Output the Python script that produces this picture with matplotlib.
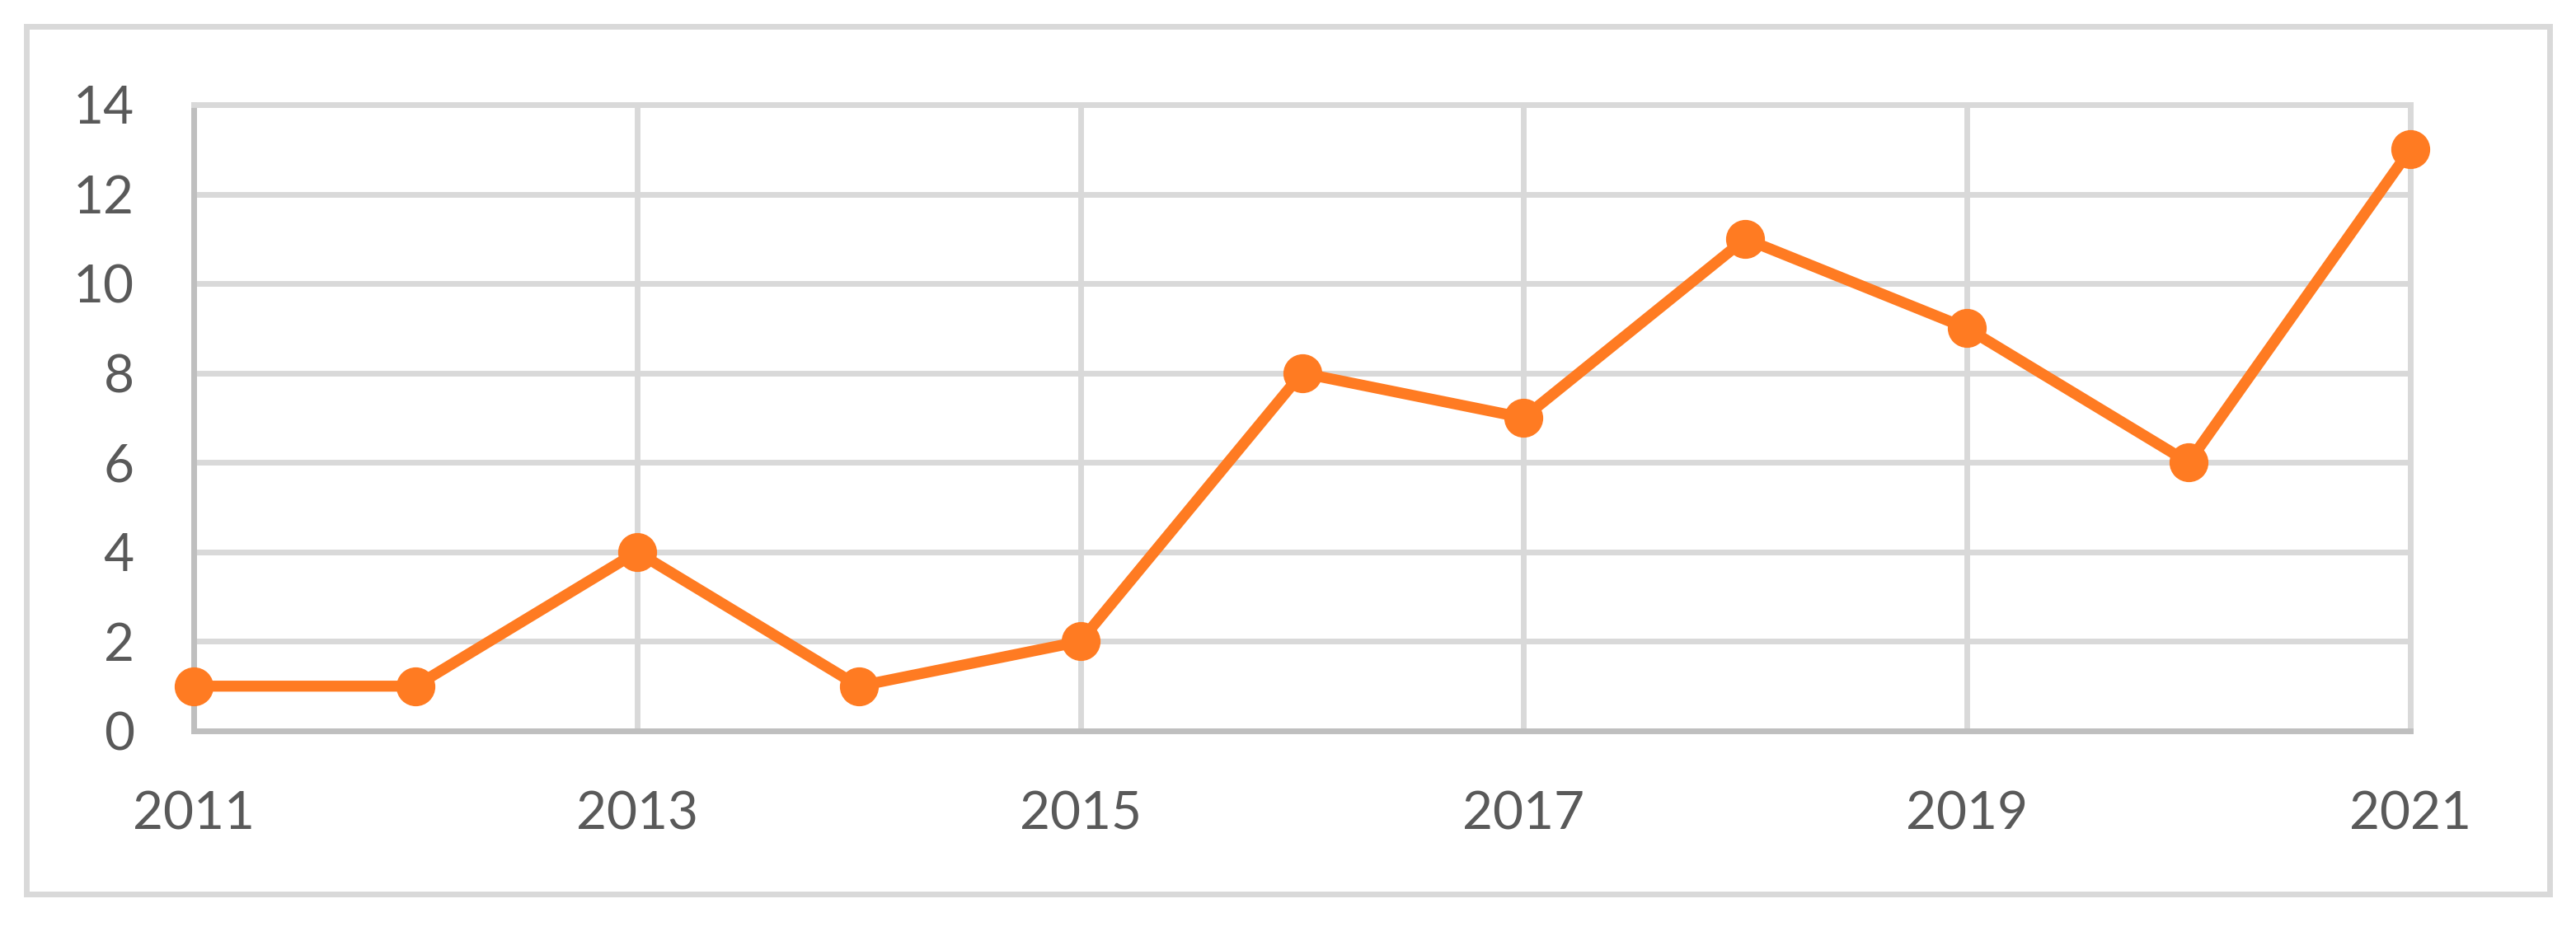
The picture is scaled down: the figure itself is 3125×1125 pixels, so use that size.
import matplotlib.pyplot as plt
from matplotlib.patches import Rectangle

years = [2011, 2012, 2013, 2014, 2015, 2016, 2017, 2018, 2019, 2020, 2021]
counts = [1, 1, 4, 1, 2, 8, 7, 11, 9, 6, 13]
xtick_years = [2011, 2013, 2015, 2017, 2019, 2021]
yticks = [0, 2, 4, 6, 8, 10, 12, 14]

orange = '#ff7b22'
grid_c = '#d9d9d9'
axis_c = '#bfbfbf'
text_c = '#595959'

plt.rcParams['font.family'] = ['Lato', 'DejaVu Sans']

fig = plt.figure(figsize=(31.25, 11.25), dpi=100)
ax = fig.add_axes([235/3125, 1 - 887/1125, (2924 - 235)/3125, (887 - 127)/1125])

# outer chart frame
fig.patches.append(Rectangle((32/3125, 1 - 1085/1125), (3093 - 32)/3125, (1085 - 32)/1125,
                             transform=fig.transFigure, fill=False,
                             edgecolor=grid_c, linewidth=5))

ax.plot(years, counts, color=orange, linewidth=9.6, marker='o',
        markersize=33, zorder=3, clip_on=False)

ax.set_xlim(2011, 2021)
ax.set_ylim(0, 14)
ax.set_xticks(xtick_years)
ax.set_yticks(yticks)
ax.grid(True, color=grid_c, linewidth=5)
ax.set_axisbelow(True)

for s in ['top', 'right']:
    ax.spines[s].set_color(grid_c)
    ax.spines[s].set_linewidth(5)
for s in ['left', 'bottom']:
    ax.spines[s].set_color(axis_c)
    ax.spines[s].set_linewidth(5)

ax.tick_params(axis='both', length=0, labelsize=46, labelcolor=text_c)
ax.tick_params(axis='y', pad=52)
ax.tick_params(axis='x', pad=52)

fig.savefig('out.png', dpi=100, facecolor='white')
